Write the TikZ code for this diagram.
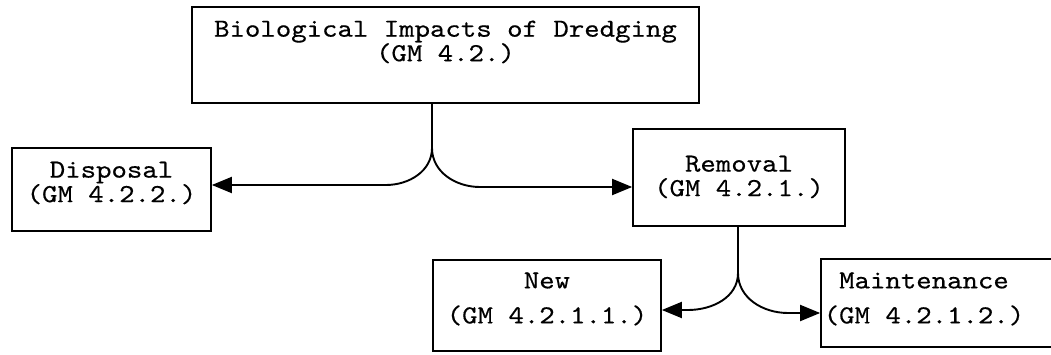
\documentclass[tikz,border=0pt]{standalone}
\usepackage{fontspec}
\usetikzlibrary{arrows.meta}
\newfontfamily\tw[Extension=.otf, FakeStretch=1.13, FakeBold=0.4]{lmmono10-regular}
\tikzset{
  boxshape/.style={draw, line width=1.7pt, rectangle, inner sep=0pt},
  txt/.style={align=center, inner sep=0pt, font=\tw\fontsize{26}{24.5}\selectfont},
  txtwide/.style={align=center, inner sep=0pt, font=\tw\fontsize{26}{35}\selectfont},
  conn/.style={line width=1.9pt},
  arr/.style={conn, -{Triangle[length=20pt,width=16pt]}}
}
\begin{document}
\begin{tikzpicture}[x=1pt,y=1pt]
\useasboundingbox (0,0) rectangle (1051,354);
\clip (0,0) rectangle (1051,354);
% boxes
\node[boxshape, minimum width=507pt, minimum height=96pt] (top) at (445.5,299) {};
\node[boxshape, minimum width=199pt, minimum height=83pt] (disp) at (111.5,164.5) {};
\node[boxshape, minimum width=212pt, minimum height=97pt] (rem) at (739,176.5) {};
\node[boxshape, minimum width=228pt, minimum height=91pt] (new) at (547,48.5) {};
\node[boxshape, minimum width=249pt, minimum height=88pt] (maint) at (945.5,51) {};
% texts
\node[txt] (toptxt) at (445.5,312) {Biological Impacts of Dredging\\(GM 4.2.)};
\node[txt] (disptxt) at (111.5,171) {Disposal\\(GM 4.2.2.)};
\node[txt] (remtxt) at (739,177) {Removal\\(GM 4.2.1.)};
\node[txtwide] (newtxt) at (547,55) {New\\(GM 4.2.1.1.)};
\node[txtwide] (mainttxt) at (924,55) {Maintenance\\(GM 4.2.1.2.)};
% junction 1
\coordinate (c1) at (432,206);
\coordinate (l1) at (386,169);
\coordinate (r1) at (480,167);
\draw[conn] (c1 |- top.south) -- (c1);
\draw[arr] (c1) to[out=-90,in=0] (l1) -- (disp.east |- l1);
\draw[arr] (c1) to[out=-90,in=180] (r1) -- (rem.west |- r1);
% junction 2
\coordinate (c2) at (738,81);
\coordinate (l2) at (688,44);
\coordinate (r2) at (788,41);
\draw[conn] (c2 |- rem.south) -- (c2);
\draw[arr] (c2) to[out=-90,in=0] (l2) -- (new.east |- l2);
\draw[arr] (c2) to[out=-90,in=180] (r2) -- (maint.west |- r2);
\end{tikzpicture}
\end{document}
